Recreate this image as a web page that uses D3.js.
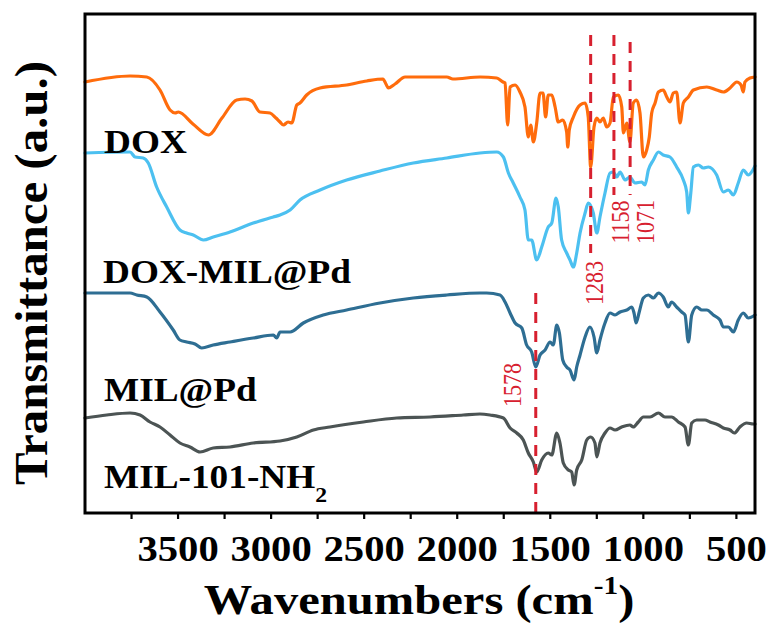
<!DOCTYPE html>
<html>
<head>
<meta charset="utf-8">
<script src="https://cdn.jsdelivr.net/npm/d3@7"></script>
<style>
  html, body { margin: 0; padding: 0; background: #ffffff; }
  svg { display: block; }
  text { font-family: "Liberation Serif", "Times New Roman", Times, serif; }
</style>
</head>
<body>
<svg id="chart" width="773" height="628"></svg>
<script>
// FT-IR spectra, offset vertically (transmittance in arbitrary units)
// Each entry: [wavenumber (cm^-1), transmittance (a.u.)]
const dox = [
  [4000,431],[3758,437],[3668,436],[3597,423],[3543,403],[3516,400],[3499,401],[3420,389],
  [3337,378],[3264,395],[3185,413],[3140,414],[3103,412],[3060,401],[3006,400],[2974,395],
  [2952,391],[2934,388],[2909,391],[2889,390],[2862,408],[2845,410],[2809,418],[2737,425],
  [2594,428],[2486,432],[2399,434],[2383,429],[2370,425],[2334,429],[2280,436],[2056,436],
  [2023,434],[1877,436],[1788,435],[1754,431],[1743,430],[1729,388],[1716,426],[1689,428],
  [1663,421],[1636,406],[1618,376],[1605,388],[1591,371],[1573,390],[1555,420],[1539,420],
  [1525,396],[1511,418],[1492,418],[1474,406],[1457,391],[1433,393],[1412,381],[1406,366],
  [1398,383],[1376,396],[1340,408],[1313,410],[1296,396],[1283,346],[1265,386],[1250,395],
  [1233,391],[1215,395],[1197,386],[1179,390],[1161,416],[1134,418],[1116,406],[1107,380],
  [1089,390],[1072,371],[1054,410],[1036,413],[1018,400],[1000,356],[982,363],[968,376],
  [955,400],[937,410],[919,421],[893,423],[874,416],[857,411],[839,420],[821,421],
  [803,390],[785,410],[758,416],[731,423],[659,426],[606,423],[570,421],[534,425],
  [498,431],[475,428],[463,421],[454,431],[427,435],[400,436]
];

const doxMilPd = [
  [4000,360],[3758,361],[3731,356],[3687,355],[3660,350],[3615,326],[3561,306],[3490,283],
  [3454,280],[3418,278],[3364,273],[3311,276],[3221,281],[3096,290],[2988,296],[2952,298],
  [2898,303],[2845,313],[2737,323],[2594,333],[2415,342],[2236,350],[2056,355],[1878,360],
  [1788,361],[1752,356],[1725,340],[1699,330],[1663,316],[1636,303],[1618,273],[1600,273],
  [1573,253],[1546,266],[1511,286],[1492,290],[1469,315],[1457,306],[1439,273],[1412,260],
  [1394,253],[1376,246],[1358,260],[1340,280],[1313,300],[1296,310],[1269,300],[1250,280],
  [1233,296],[1206,320],[1179,340],[1161,341],[1143,336],[1125,341],[1098,333],[1072,336],
  [1045,330],[1009,331],[991,328],[973,343],[946,353],[919,361],[893,358],[857,356],
  [821,346],[785,333],[767,321],[758,300],[745,320],[731,346],[704,348],[678,345],
  [651,346],[606,338],[570,321],[543,323],[516,318],[490,330],[463,343],[436,338],[400,347]
];

const milPd = [
  [4000,220],[3758,220],[3722,218],[3668,216],[3597,201],[3526,183],[3490,173],[3454,171],
  [3409,169],[3373,165],[3311,168],[3221,171],[3096,175],[2988,178],[2970,175],[2952,181],
  [2898,181],[2827,190],[2720,198],[2594,203],[2415,210],[2236,215],[2056,218],[1878,220],
  [1842,220],[1770,218],[1743,211],[1716,200],[1689,190],[1653,185],[1627,168],[1600,161],
  [1578,146],[1555,158],[1528,163],[1501,171],[1484,168],[1465,188],[1451,180],[1433,153],
  [1412,146],[1394,143],[1372,133],[1358,146],[1340,158],[1313,176],[1287,186],[1265,176],
  [1250,160],[1233,173],[1206,190],[1179,200],[1152,198],[1125,201],[1089,203],[1062,206],
  [1050,200],[1039,190],[1022,201],[1000,215],[973,218],[946,215],[919,220],[893,216],
  [866,206],[848,211],[821,206],[794,201],[776,198],[758,171],[740,198],[713,206],
  [686,203],[659,203],[624,198],[588,193],[570,186],[543,186],[516,181],[490,193],
  [463,200],[436,195],[400,198]
];

const mil101NH2 = [
  [4000,95],[3883,98],[3758,100],[3704,98],[3651,91],[3597,86],[3543,78],[3490,70],
  [3436,66],[3382,61],[3311,65],[3221,66],[3096,70],[2952,72],[2862,76],[2773,83],
  [2684,86],[2505,91],[2325,95],[2146,96],[1967,98],[1878,99],[1824,98],[1752,95],
  [1716,85],[1680,80],[1645,73],[1618,60],[1591,51],[1573,41],[1546,53],[1511,60],
  [1492,58],[1465,80],[1448,70],[1430,50],[1403,43],[1385,41],[1372,28],[1358,43],
  [1331,53],[1304,73],[1283,76],[1260,70],[1250,56],[1233,70],[1206,80],[1179,85],
  [1152,83],[1116,86],[1072,88],[1054,86],[1027,91],[1000,96],[964,96],[919,100],
  [884,96],[848,96],[812,91],[776,86],[758,68],[740,90],[713,93],[669,93],
  [642,91],[597,88],[570,85],[534,83],[511,80],[481,86],[445,90],[409,89],[400,89]
];

const seriesNames = ["DOX", "DOX-MIL@Pd", "MIL@Pd", "MIL-101-NH2"];
const seriesData = [dox, doxMilPd, milPd, mil101NH2];
const seriesColors = ["#ff6c0c", "#4cc0f0", "#2e6e93", "#4c5454"];

// Axis ticks
const xMajorTicks = [3500, 3000, 2500, 2000, 1500, 1000, 500];
const xTickLabels = ["3500", "3000", "2500", "2000", "1500", "1000", "500"];
const xMinorTicks = [3750, 3250, 2750, 2250, 1750, 1250, 750];

// Band markers (wavenumber, vertical extent in a.u.)
const markerWavenumbers = [1578, 1283, 1158, 1071];
const markerLabels = ["1578", "1283", "1158", "1071"];
const markerTop = [220, 478, 478, 471];
const markerBottom = [0, 260, 318, 318];

// ---- layout ----
const svg = d3.select("#chart");
const W = 773, H = 628;
const plot = { left: 85, top: 14, right: 755, bottom: 513 };
const stretch = 1.13; // horizontal glyph stretch used for the bold labels

svg.append("rect").attr("width", W).attr("height", H).attr("fill", "#ffffff");

const x = d3.scaleLinear().domain([4000, 400]).range([plot.left, plot.right]);
const y = d3.scaleLinear().domain([0, 499]).range([plot.bottom, plot.top]);

const g = svg.append("g");

// spectra
const line = d3.line()
  .x(d => x(d[0]))
  .y(d => y(d[1]))
  .curve(d3.curveMonotoneX);

seriesData.forEach((data, i) => {
  g.append("path")
    .datum(data.slice().sort((a, b) => b[0] - a[0]))
    .attr("fill", "none")
    .attr("stroke", seriesColors[i])
    .attr("stroke-width", 3.2)
    .attr("stroke-linejoin", "round")
    .attr("stroke-linecap", "round")
    .attr("d", line);
});

// dashed band markers
markerWavenumbers.forEach((wn, i) => {
  g.append("line")
    .attr("x1", x(wn)).attr("x2", x(wn))
    .attr("y1", y(markerTop[i])).attr("y2", y(markerBottom[i]))
    .attr("stroke", "#d7202f")
    .attr("stroke-width", 3)
    .attr("stroke-dasharray", "11,8");
});

// marker labels (rotated)
const markerLabelPos = [
  { dx: -23, y: 385 },
  { dx: 4, y: 283 },
  { dx: 6, y: 222 },
  { dx: 15, y: 222 }
];
markerWavenumbers.forEach((wn, i) => {
  const px = x(wn) + markerLabelPos[i].dx;
  g.append("text")
    .attr("transform", `translate(${px},${markerLabelPos[i].y}) rotate(-90) scale(1,${stretch})`)
    .attr("text-anchor", "middle")
    .attr("dy", "0.35em")
    .attr("font-size", 22)
    .attr("fill", "#d7202f")
    .text(markerLabels[i]);
});

// series labels
const seriesLabelPos = [
  { x: 104, y: 153 },
  { x: 103, y: 283 },
  { x: 104, y: 401 },
  { x: 104, y: 488 }
];
seriesNames.forEach((name, i) => {
  const t = g.append("text")
    .attr("transform", `translate(${seriesLabelPos[i].x},${seriesLabelPos[i].y}) scale(${stretch},1)`)
    .attr("font-size", 33)
    .attr("font-weight", "bold")
    .attr("fill", "#000");
  if (name === "MIL-101-NH2") {
    t.append("tspan").text("MIL-101-NH");
    t.append("tspan").attr("font-size", 21).attr("dy", 14).text("2");
  } else {
    t.text(name);
  }
});

// x axis ticks (outward)
const tickLen = 6;
[...xMajorTicks, ...xMinorTicks].forEach(v => {
  g.append("line")
    .attr("x1", x(v)).attr("x2", x(v))
    .attr("y1", plot.bottom).attr("y2", plot.bottom + tickLen)
    .attr("stroke", "#000").attr("stroke-width", 2.2);
});

xMajorTicks.forEach((v, i) => {
  g.append("text")
    .attr("transform", `translate(${x(v)},561) scale(${stretch},1)`)
    .attr("text-anchor", "middle")
    .attr("font-size", 36)
    .attr("font-weight", "bold")
    .attr("fill", "#000")
    .text(xTickLabels[i]);
});

// frame
g.append("rect")
  .attr("x", plot.left).attr("y", plot.top)
  .attr("width", plot.right - plot.left).attr("height", plot.bottom - plot.top)
  .attr("fill", "none").attr("stroke", "#000").attr("stroke-width", 3);

// axis titles
const xt = g.append("text")
  .attr("transform", `translate(419,614) scale(${stretch},1)`)
  .attr("text-anchor", "middle")
  .attr("font-size", 43)
  .attr("font-weight", "bold")
  .attr("fill", "#000");
xt.append("tspan").text("Wavenumbers (cm");
xt.append("tspan").attr("font-size", 26).attr("dy", -20).text("-1");
xt.append("tspan").attr("dy", 20).text(")");

g.append("text")
  .attr("transform", `translate(47,273) rotate(-90) scale(1.04,1)`)
  .attr("text-anchor", "middle")
  .attr("font-size", 47)
  .attr("font-weight", "bold")
  .attr("fill", "#000")
  .text("Transmittance (a.u.)");
</script>
</body>
</html>
